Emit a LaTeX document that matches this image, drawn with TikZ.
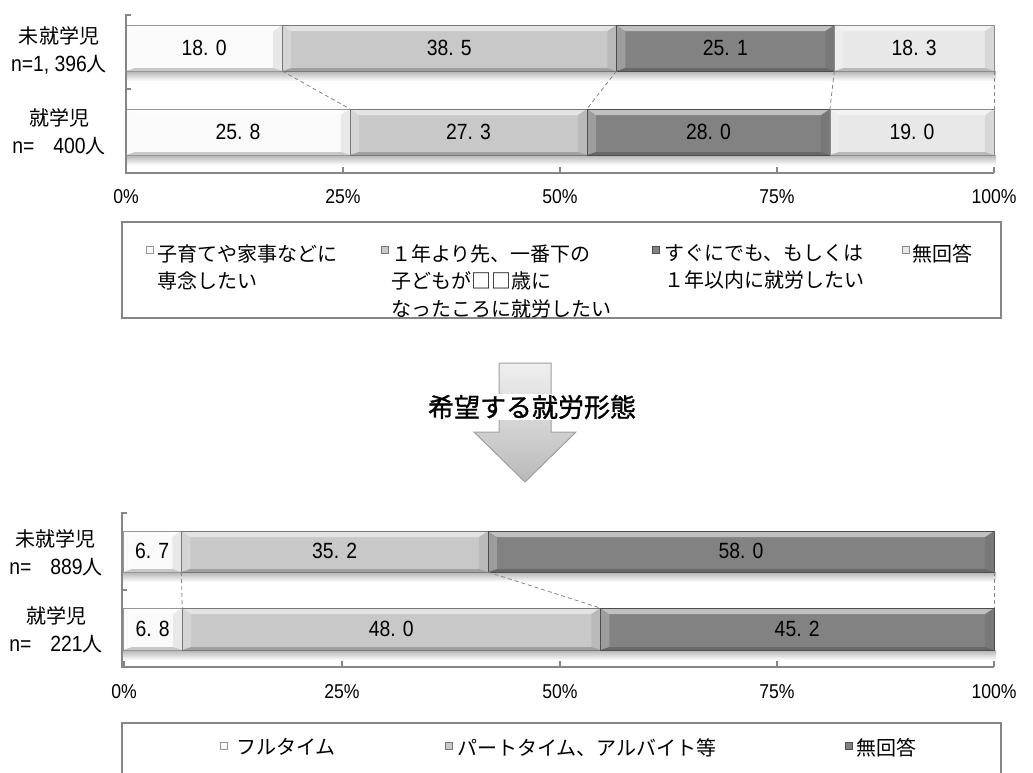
\documentclass[tikz,border=0pt]{standalone}
\usepackage{fontspec}
\setmainfont{Noto Sans CJK JP}
\newfontfamily\numf[FakeStretch=0.88]{Liberation Sans}
\newfontfamily\headf[FakeBold=1.2]{Noto Sans CJK JP}

\definecolor{segA}{RGB}{250,250,250}
\definecolor{segB}{RGB}{200,200,200}
\definecolor{segC}{RGB}{130,130,130}
\definecolor{segD}{RGB}{232,232,232}
\definecolor{axisgray}{RGB}{134,134,134}

\tikzset{
  axisline/.style={axisgray,line width=1.2pt},
  seriesline/.style={axisgray,line width=0.8pt,dash pattern=on 4pt off 3pt},
  vallabel/.style={font=\numf\fontsize{22}{26}\selectfont,inner sep=0pt},
  ticklabel/.style={font=\numf\fontsize{20}{24}\selectfont,inner sep=0pt},
  rowlabel/.style={align=center,font=\fontsize{20}{28}\selectfont,inner sep=0pt},
  legtext/.style={align=left,font=\fontsize{20}{27.5}\selectfont,inner sep=0pt,anchor=north west},
  legbox/.style={draw=axisgray,line width=1.5pt},
  legmark/.style={draw=#1!60!black,fill=#1,line width=.5pt},
}

% one bevelled bar segment: x0, x1, ytop, ybottom, colour
\newcommand{\segbox}[5]{%
  \fill[#5] (#1,#3) rectangle (#2,#4);
  \fill[white,opacity=.5] (#1,#3) -- (#2,#3) -- (#2-9,#3+6) -- (#1+9,#3+6) -- cycle;
  \fill[white,opacity=.22] (#1,#3) -- (#1+9,#3+6) -- (#1+9,#4-3) -- (#1,#4) -- cycle;
  \fill[black,opacity=.07] (#2,#3) -- (#2-9,#3+6) -- (#2-9,#4-3) -- (#2,#4) -- cycle;
  \fill[black,opacity=.2] (#1,#4) -- (#1+9,#4-3) -- (#2-9,#4-3) -- (#2,#4) -- cycle;
  \draw[#5!60!black,line width=.6pt] (#1,#3) rectangle (#2,#4);
}

\begin{document}
\begin{tikzpicture}[x=1pt,y=-1pt]
    \useasboundingbox (0,0) rectangle (1033,772);
    \fill[white] (0,0) rectangle (1033,772);

    % upper chart
    \shade[top color=black!30,bottom color=white] (126,71) rectangle (996,81);
    \shade[top color=black!30,bottom color=white] (126,155) rectangle (996,165);
    \foreach \a/\b/\c/\v [count=\i] in {0/18.0/segA/18. 0, 18.0/56.5/segB/38. 5, 56.5/81.6/segC/25. 1, 81.6/100/segD/18. 3}{
      \pgfmathsetmacro\xa{126+8.68*\a}
      \pgfmathsetmacro\xb{126+8.68*\b}
      \segbox{\xa}{\xb}{25}{71}{\c}
      \node[vallabel] (ta\i) at ({(\xa+\xb)/2},48) {\v};
      \coordinate (tac\i) at (\xb,71);
    }
    \foreach \a/\b/\c/\v [count=\i] in {0/25.8/segA/25. 8, 25.8/53.1/segB/27. 3, 53.1/81.1/segC/28. 0, 81.1/100/segD/19. 0}{
      \pgfmathsetmacro\xa{126+8.68*\a}
      \pgfmathsetmacro\xb{126+8.68*\b}
      \segbox{\xa}{\xb}{109}{155}{\c}
      \node[vallabel] (tb\i) at ({(\xa+\xb)/2},132) {\v};
      \coordinate (tbc\i) at (\xb,109);
    }
    \foreach \i in {1,...,4}
    \draw[seriesline] (tac\i) -- (tbc\i);

    \draw[axisline] (131,15) -- (126,15) -- (126,173) -- (994,173);
    \draw[axisline] (126,89) -- (131,89);
    \foreach \x/\xtext [count=\i] in {126/0\%, 343/25\%, 560/50\%, 777/75\%, 994/100\%}{
      \draw[axisline] (\x,173) -- (\x,167);
      \node[ticklabel] (tx\i) at (\x,197) {\xtext};
    }
    \node[rowlabel] (tr1) at (59,50) {未就学児\\{\numf\fontsize{22}{28}\selectfont n=1, 396}人};
    \node[rowlabel] (tr2) at (59,132) {就学児\\{\numf\fontsize{22}{28}\selectfont n=\hspace{19pt}400}人};

    % legend of the upper chart
    \draw[legbox] (122,222) rectangle (1001,318);
    \foreach \x/\c in {146/segA, 381/segB, 652/segC, 902/segD}
    \filldraw[legmark=\c] (\x,246) rectangle ++(7,7);
    \node[legtext] (tl1) at (157,244) {子育てや家事などに\\専念したい};
    \node[legtext] (tl2) at (391,244) {１年より先、一番下の\\子どもが□□歳に\\なったころに就労したい};
    \node[legtext] (tl3) at (664,244) {すぐにでも、もしくは\\１年以内に就労したい};
    \node[legtext] (tl4) at (912,244) {無回答};

    % arrow
    \shadedraw[top color=gray!12,bottom color=gray!55,draw=gray!75,line width=1pt]
      (499,363) -- (551,363) -- (551,432) -- (576,432) -- (525,482) -- (474,432) -- (499,432) -- cycle;
    \node[fill=white,inner sep=1pt,font=\headf\fontsize{26}{30}\selectfont] (kibou) at (532,407) {希望する就労形態};

    % lower chart
    \shade[top color=black!30,bottom color=white] (123,572) rectangle (996,582);
    \shade[top color=black!30,bottom color=white] (123,650) rectangle (996,660);
    \foreach \a/\b/\c/\v [count=\i] in {0/6.7/segA/6. 7, 6.7/41.9/segB/35. 2, 41.9/100/segC/58. 0}{
      \pgfmathsetmacro\xa{123+8.71*\a}
      \pgfmathsetmacro\xb{123+8.71*\b}
      \segbox{\xa}{\xb}{531}{572}{\c}
      \node[vallabel] (ba\i) at ({(\xa+\xb)/2},551) {\v};
      \coordinate (bac\i) at (\xb,572);
    }
    \foreach \a/\b/\c/\v [count=\i] in {0/6.8/segA/6. 8, 6.8/54.8/segB/48. 0, 54.8/100/segC/45. 2}{
      \pgfmathsetmacro\xa{123+8.71*\a}
      \pgfmathsetmacro\xb{123+8.71*\b}
      \segbox{\xa}{\xb}{608}{650}{\c}
      \node[vallabel] (bb\i) at ({(\xa+\xb)/2},629) {\v};
      \coordinate (bbc\i) at (\xb,608);
    }
    \foreach \i in {1,...,3}
    \draw[seriesline] (bac\i) -- (bbc\i);

    \draw[axisline] (127,513) -- (122,513) -- (122,667) -- (994,667);
    \draw[axisline] (122,590) -- (127,590);
    \foreach \x/\xtext [count=\i] in {124/0\%, 342/25\%, 560/50\%, 777/75\%, 994/100\%}{
      \draw[axisline] (\x,667) -- (\x,661);
      \node[ticklabel] (bx\i) at (\x,692) {\xtext};
    }
    \node[rowlabel] (br1) at (56,553) {未就学児\\{\numf\fontsize{22}{28}\selectfont n=\hspace{19pt}889}人};
    \node[rowlabel] (br2) at (56,630) {就学児\\{\numf\fontsize{22}{28}\selectfont n=\hspace{19pt}221}人};

    % legend of the lower chart
    \draw[legbox] (122,723) rectangle (1001,790);
    \foreach \x/\c in {220/segA, 445/segB, 845/segC}
    \filldraw[legmark=\c] (\x,742) rectangle ++(7,7);
    \node[legtext] (bl1) at (236,738) {フルタイム};
    \node[legtext] (bl2) at (457,738) {パートタイム、アルバイト等};
    \node[legtext] (bl3) at (856,738) {無回答};
\end{tikzpicture}
\end{document}
